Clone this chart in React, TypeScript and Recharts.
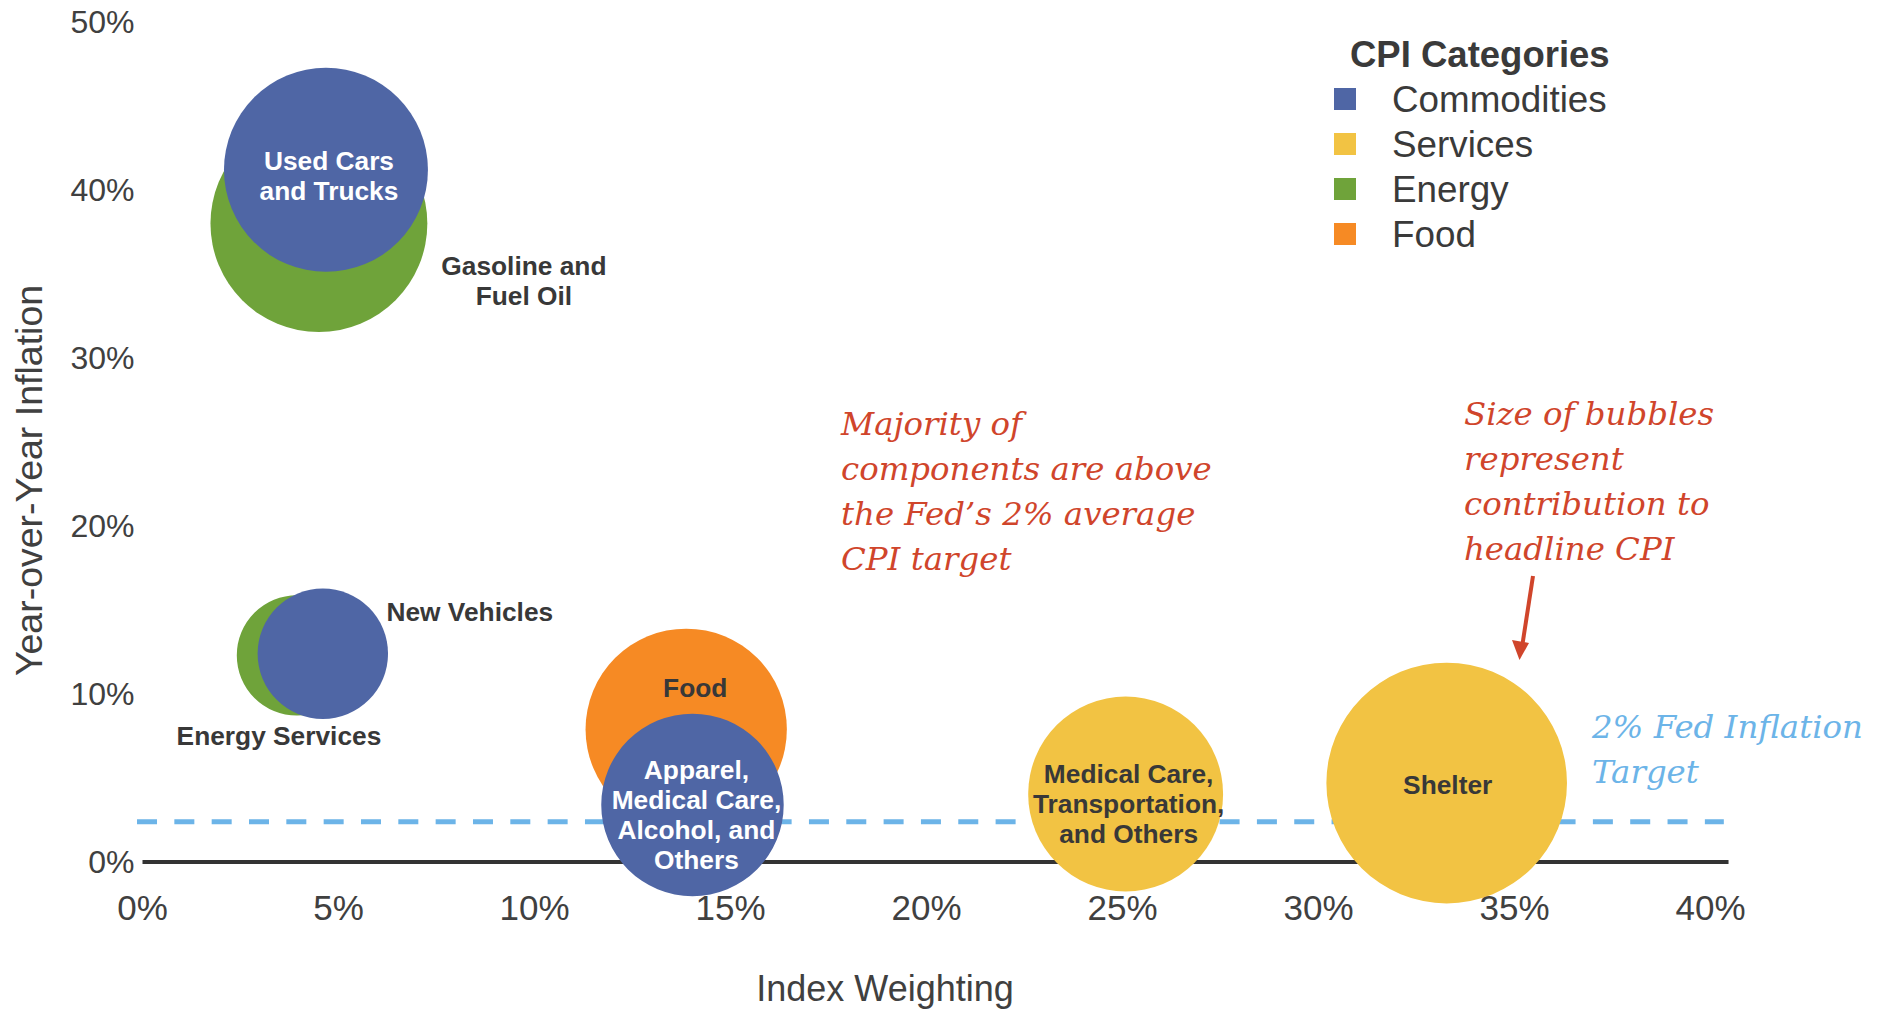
import { ScatterChart, Scatter, XAxis, YAxis, ZAxis, ReferenceLine, Legend } from "recharts";

// CPI components: index weight (x, %), year-over-year inflation (y, %), contribution (bubble area)
const bubbleNames = [
  "Used Cars and Trucks",
  "Gasoline and Fuel Oil",
  "New Vehicles",
  "Energy Services",
  "Food",
  "Apparel, Medical Care, Alcohol, and Others",
  "Medical Care, Transportation, and Others",
  "Shelter",
];
const bubbleCategories = ["Commodities", "Energy", "Commodities", "Energy", "Food", "Commodities", "Services", "Services"];
const indexWeights = [4.68, 4.5, 4.6, 3.94, 13.87, 14.03, 25.08, 33.27];
const yoyInflation = [41.2, 38.0, 12.4, 12.3, 7.9, 3.4, 4.05, 4.7];
const contributions = [1.15, 1.3, 0.47, 0.4, 1.12, 0.92, 1.05, 1.6];

const categories = ["Commodities", "Services", "Energy", "Food"];
const drawOrder = ["Services", "Energy", "Food", "Commodities"];

const xTicks = [0, 5, 10, 15, 20, 25, 30, 35, 40];
const yTicks = [0, 10, 20, 30, 40, 50];
const fedTarget = 2.4;
const targetSpan = [-0.14, 40.34];
const zeroSpan = [0, 40.46];

const noteMajority = ["Majority of", "components are above", "the Fed’s 2% average", "CPI target"];
const noteSize = ["Size of bubbles", "represent", "contribution to", "headline CPI"];
const noteTarget = ["2% Fed Inflation", "Target"];

const COLORS: Record<string, string> = {
  Commodities: "#4f66a5",
  Services: "#f2c343",
  Energy: "#6fa33a",
  Food: "#f68a24",
};
const SANS = "'Liberation Sans', Arial, sans-serif";
const SERIF = "'DejaVu Serif', serif";
const GREY = "#404040";
const RED = "#d0452b";
const BLUE = "#6cb4e8";

// where each bubble's label sits relative to the bubble centre (px)
const labelLayout: Record<string, { lines: string[]; dx: number; dy: number; light?: boolean }> = {
  "Used Cars and Trucks": { lines: ["Used Cars", "and Trucks"], dx: 3, dy: -9, light: true },
  "Gasoline and Fuel Oil": { lines: ["Gasoline and", "Fuel Oil"], dx: 205, dy: 42 },
  "New Vehicles": { lines: ["New Vehicles"], dx: 147, dy: -42 },
  "Energy Services": { lines: ["Energy Services"], dx: -18, dy: 81 },
  Food: { lines: ["Food"], dx: 9, dy: -41 },
  "Apparel, Medical Care, Alcohol, and Others": {
    lines: ["Apparel,", "Medical Care,", "Alcohol, and", "Others"],
    dx: 4,
    dy: -35,
    light: true,
  },
  "Medical Care, Transportation, and Others": {
    lines: ["Medical Care,", "Transportation,", "and Others"],
    dx: 3,
    dy: -20,
  },
  Shelter: { lines: ["Shelter"], dx: 1, dy: 1.5 },
};

const points = bubbleNames.map((name, i) => ({
  name,
  category: bubbleCategories[i],
  x: indexWeights[i],
  y: yoyInflation[i],
  z: contributions[i],
}));

function BubbleLabel(props: any) {
  const { cx, cy } = props;
  const name = props.payload?.name ?? props.name;
  const l = labelLayout[name];
  if (!l || cx == null) return <g />;
  const x = cx + l.dx;
  return (
    <text
      x={x}
      y={cy + l.dy + 9}
      textAnchor="middle"
      fontFamily={SANS}
      fontWeight="bold"
      fontSize={26.3}
      fill={l.light ? "#ffffff" : "#383838"}
    >
      {l.lines.map((line, i) => (
        <tspan key={i} x={x} dy={i === 0 ? 0 : 30}>
          {line}
        </tspan>
      ))}
    </text>
  );
}

function CategoryLegend() {
  return (
    <div style={{ fontFamily: SANS, color: "#3a3a3a", whiteSpace: "nowrap" }}>
      <div style={{ height: 44, lineHeight: "44px", fontSize: 36.5, fontWeight: "bold", paddingLeft: 16 }}>
        CPI Categories
      </div>
      {categories.map((c) => (
        <div key={c} style={{ display: "flex", alignItems: "center", height: 45 }}>
          <span style={{ display: "inline-block", width: 22, height: 22, background: COLORS[c], marginRight: 36 }} />
          <span style={{ fontSize: 36.8, lineHeight: "45px" }}>{c}</span>
        </div>
      ))}
    </div>
  );
}

function NoteLines({ lines, x, y, color }: { lines: string[]; x: number; y: number; color: string }) {
  return (
    <text x={x} y={y} fontFamily={SERIF} fontStyle="italic" fontSize={32.4} fill={color}>
      {lines.map((line, i) => (
        <tspan key={i} x={x} dy={i === 0 ? 0 : 45}>
          {line}
        </tspan>
      ))}
    </text>
  );
}

export default function App() {
  return (
    <div style={{ position: "absolute", left: 0, top: 0, width: 1891, height: 1011, background: "#fff" }}>
      <ScatterChart width={1891} height={1011} margin={{ top: 22, right: 180.5, bottom: 89, left: 42.5 }}>
        <XAxis
          type="number"
          dataKey="x"
          domain={[0, 40]}
          ticks={xTicks}
          tickFormatter={(v) => `${v}%`}
          axisLine={false}
          tickLine={false}
          tickSize={0}
          tickMargin={33}
          height={60}
          tick={{ fill: GREY, fontSize: 35, fontFamily: SANS }}
        />
        <YAxis
          type="number"
          dataKey="y"
          domain={[0, 50]}
          ticks={yTicks}
          tickFormatter={(v) => `${v}%`}
          axisLine={false}
          tickLine={false}
          tickSize={0}
          tickMargin={8}
          width={100}
          tick={{ fill: GREY, fontSize: 32, fontFamily: SANS }}
        />
        <ZAxis type="number" dataKey="z" domain={[0, 1.6]} range={[0, Math.PI * 120.3 * 120.3]} />
        <ReferenceLine
          segment={[
            { x: zeroSpan[0], y: 0 },
            { x: zeroSpan[1], y: 0 },
          ]}
          ifOverflow="visible"
          stroke="#333333"
          strokeWidth={4}
        />
        <ReferenceLine
          segment={[
            { x: targetSpan[0], y: fedTarget },
            { x: targetSpan[1], y: fedTarget },
          ]}
          ifOverflow="visible"
          stroke={BLUE}
          strokeWidth={5}
          strokeDasharray="20 17.33"
        />
        {drawOrder.map((cat) => (
          <Scatter
            key={cat}
            name={cat}
            data={points.filter((p) => p.category === cat)}
            fill={COLORS[cat]}
            isAnimationActive={false}
          />
        ))}
        <Scatter name="labels" data={points} shape={BubbleLabel} legendType="none" isAnimationActive={false} />
        <Legend
          layout="horizontal"
          verticalAlign="middle"
          align="center"
          wrapperStyle={{ top: 32.5, left: 1334, width: "auto", height: "auto", margin: 0, padding: 0 }}
          content={() => <CategoryLegend />}
        />
      </ScatterChart>
      <svg width={1891} height={1011} style={{ position: "absolute", left: 0, top: 0, pointerEvents: "none" }}>
        <text
          transform="translate(41.5,480.5) rotate(-90)"
          textAnchor="middle"
          fontFamily={SANS}
          fontSize={37.5}
          fill={GREY}
        >
          Year-over-Year Inflation
        </text>
        <text x={885} y={1000.5} textAnchor="middle" fontFamily={SANS} fontSize={36} fill={GREY}>
          Index Weighting
        </text>
        <NoteLines lines={noteMajority} x={841} y={435} color={RED} />
        <NoteLines lines={noteSize} x={1464} y={425} color={RED} />
        <NoteLines lines={noteTarget} x={1592} y={738} color={BLUE} />
        <line x1={1533} y1={576} x2={1522.5} y2={644} stroke={RED} strokeWidth={4} />
        <polygon points="1512,640 1529,643 1519.5,660" fill={RED} />
      </svg>
    </div>
  );
}
